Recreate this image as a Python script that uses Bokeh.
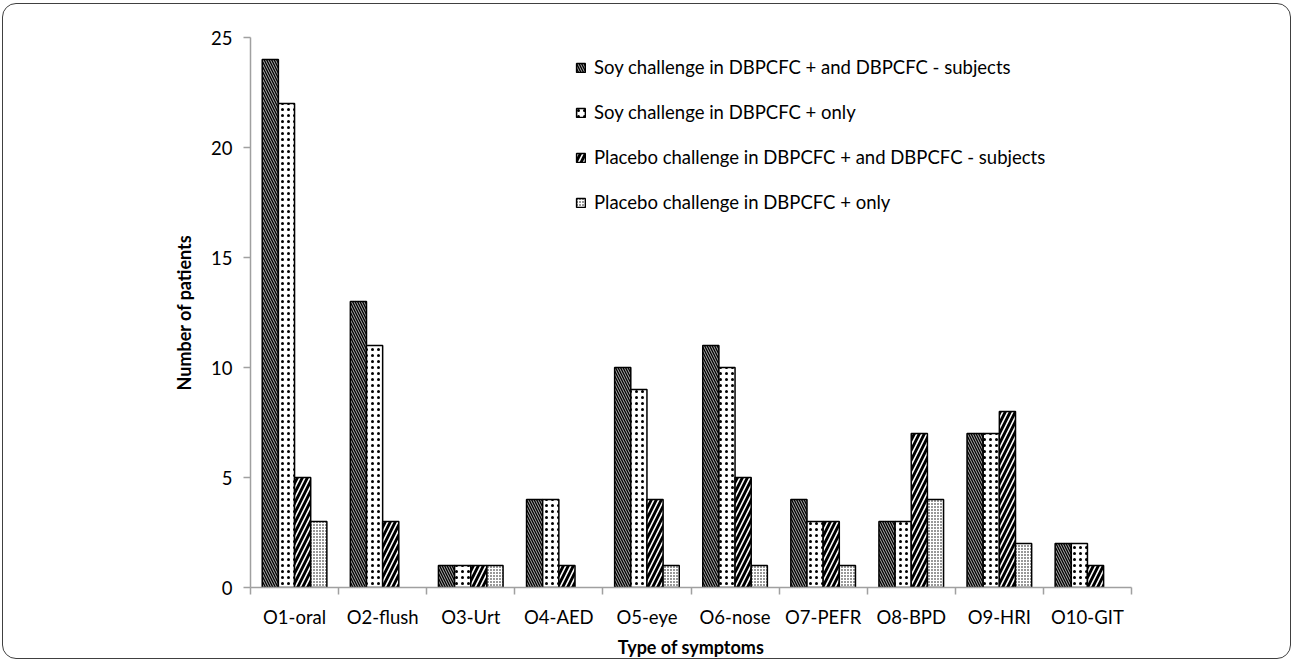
from bokeh.plotting import figure
from bokeh.models import Range1d, FixedTicker, Legend, LegendItem, ColumnDataSource
from bokeh.embed import file_html
from bokeh.resources import INLINE

categories = ["O1-oral", "O2-flush", "O3-Urt", "O4-AED", "O5-eye",
              "O6-nose", "O7-PEFR", "O8-BPD", "O9-HRI", "O10-GIT"]
soy_all = [24, 13, 1, 4, 10, 11, 4, 3, 7, 2]
soy_pos = [22, 11, 1, 4, 9, 10, 3, 3, 7, 2]
placebo_all = [5, 3, 1, 1, 4, 5, 3, 7, 8, 1]
placebo_pos = [3, 0, 1, 0, 1, 1, 1, 4, 2, 0]
series_names = [
    "Soy challenge in DBPCFC + and DBPCFC - subjects",
    "Soy challenge in DBPCFC + only",
    "Placebo challenge in DBPCFC + and DBPCFC - subjects",
    "Placebo challenge in DBPCFC + only",
]
y_ticks = [0, 5, 10, 15, 20, 25]

FONT = "Lato"
series = [soy_all, soy_pos, placebo_all, placebo_pos]
styles = [
    dict(fill_color="black", hatch_pattern="\\", hatch_color="white", hatch_scale=5, hatch_weight=0.7),
    dict(fill_color="white", hatch_pattern=".", hatch_color="black", hatch_scale=6, hatch_weight=0.3),
    dict(fill_color="black", hatch_pattern="/", hatch_color="white", hatch_scale=10, hatch_weight=1.6),
    dict(fill_color="white", hatch_pattern=".", hatch_color="black", hatch_scale=3, hatch_weight=1),
]

p = figure(width=1289, height=656, output_backend="svg", toolbar_location=None,
           x_range=Range1d(0.5, len(categories) + 0.5), y_range=Range1d(0, 25),
           min_border_left=247, min_border_right=161, min_border_top=33, min_border_bottom=60,
           styles={"margin": "3px 0 0 2px", "border": "1.5px solid #404040", "border-radius": "14px"})
p.outline_line_color = None
p.grid.visible = False
p.background_fill_color = "white"
p.border_fill_color = None

bw = 0.1834
offsets = [-1.5 * bw, -0.5 * bw, 0.5 * bw, 1.5 * bw]
items = []
for vals, off, st, name in zip(series, offsets, styles, series_names):
    xs = [i + 1 + off for i, v in enumerate(vals) if v > 0]
    tops = [v for v in vals if v > 0]
    src = ColumnDataSource(dict(x=xs, top=tops))
    r = p.vbar(x="x", top="top", bottom=0, width=bw, source=src,
               line_color="black", line_width=1.5, **st)
    items.append(LegendItem(label=name, renderers=[r]))

legend = Legend(items=items, location=(325, 374), padding=0, margin=0,
                border_line_color=None, background_fill_alpha=0,
                glyph_width=11, glyph_height=11, label_height=22, spacing=23,
                label_standoff=8, label_text_font=FONT, label_text_font_size="18.5px",
                label_text_color="black")
p.add_layout(legend)

# x axis
xa = p.xaxis[0]
xa.ticker = FixedTicker(ticks=[i + 1 for i in range(len(categories))],
                        minor_ticks=[i + 0.5 for i in range(len(categories) + 1)])
xa.major_label_overrides = {i + 1: c for i, c in enumerate(categories)}
xa.major_tick_line_color = None
xa.major_tick_out = 0
xa.minor_tick_out = 7
xa.minor_tick_in = 0
xa.minor_tick_line_color = "#a0a0a0"
xa.minor_tick_line_width = 1.5
xa.axis_line_color = "#a0a0a0"
xa.axis_line_width = 1.5
xa.major_label_text_font = FONT
xa.major_label_text_font_size = "18.5px"
xa.major_label_text_color = "black"
xa.major_label_standoff = 11
xa.axis_label = "Type of symptoms"
xa.axis_label_text_font = FONT
xa.axis_label_text_font_size = "18px"
xa.axis_label_text_font_style = "bold"
xa.axis_label_text_color = "black"
xa.axis_label_standoff = 5

ya = p.yaxis[0]
ya.ticker = FixedTicker(ticks=y_ticks)
ya.minor_tick_line_color = None
ya.major_tick_out = 7
ya.major_tick_in = 0
ya.major_tick_line_color = "#a0a0a0"
ya.major_tick_line_width = 1.5
ya.axis_line_color = "#a0a0a0"
ya.axis_line_width = 1.5
ya.major_label_text_font = FONT
ya.major_label_text_font_size = "18.5px"
ya.major_label_text_color = "black"
ya.major_label_standoff = 11
ya.axis_label = "Number of patients"
ya.axis_label_text_font = FONT
ya.axis_label_text_font_size = "18px"
ya.axis_label_text_font_style = "bold"
ya.axis_label_text_color = "black"
ya.axis_label_standoff = 13

open("out.html", "w").write(file_html(p, INLINE))
